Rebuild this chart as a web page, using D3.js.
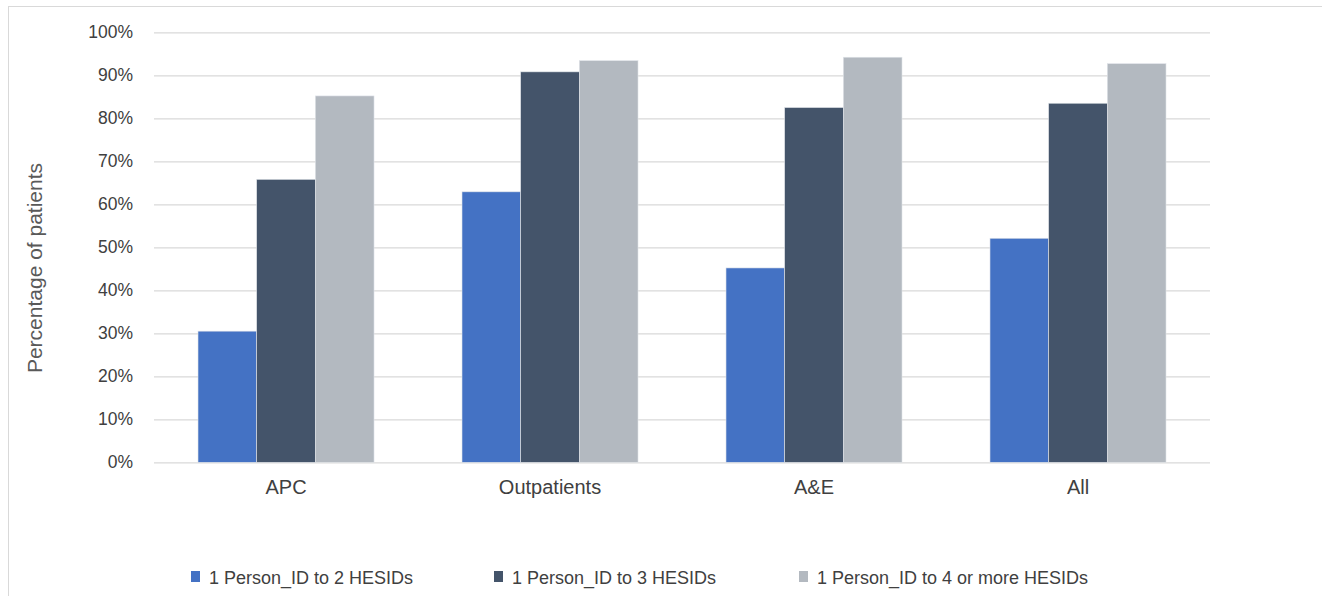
<!DOCTYPE html>
<html><head><meta charset="utf-8">
<script src="https://cdn.jsdelivr.net/npm/d3@7"></script>
<style>body{margin:0;background:#fff}svg{display:block}text{font-family:"Liberation Sans",Arial,sans-serif}</style>
</head><body>
<svg id="c" width="1322" height="596"></svg>
<script>
const categories = ["APC", "Outpatients", "A&E", "All"];
const seriesNames = ["1 Person_ID to 2 HESIDs", "1 Person_ID to 3 HESIDs", "1 Person_ID to 4 or more HESIDs"];
const series2 = [30.5, 62.9, 45.2, 52.1];
const series3 = [65.8, 90.8, 82.5, 83.5];
const series4 = [85.2, 93.4, 94.2, 92.7];
const yTicks = [0, 10, 20, 30, 40, 50, 60, 70, 80, 90, 100];
const colors = ["#4472c4", "#44546a", "#b3b9c0"];

const svg = d3.select("#c");
svg.append("rect").attr("x", 8.5).attr("y", 6.5).attr("width", 1330).attr("height", 600)
  .attr("fill", "#fff").attr("stroke", "#d9d9d9").attr("stroke-width", 1);

const pLeft = 154, pRight = 1210, pTop = 32.3, pBottom = 462.3;
const x = d3.scaleBand().domain(categories).range([pLeft, pRight]).paddingInner(0.3333).paddingOuter(0.1667);
const xs = d3.scaleBand().domain([0,1,2]).range([0, x.bandwidth()]);
const y = d3.scaleLinear().domain([0, 100]).range([pBottom, pTop]);

const gy = svg.append("g").attr("transform", `translate(${pLeft},0)`)
  .call(d3.axisLeft(y).tickValues(yTicks).tickFormat(d => d + "%").tickSize(-(pRight - pLeft)).tickPadding(21));
gy.select(".domain").remove();
gy.selectAll(".tick line").attr("stroke", "#d9d9d9").attr("stroke-width", 1.3);
gy.selectAll(".tick text").attr("fill", "#404040").style("font-size", "17.5px");

const data = [series2, series3, series4];
const g = svg.append("g");
data.forEach((vals, si) => {
  g.selectAll(null).data(categories).join("rect")
    .attr("x", d => x(d) + xs(si))
    .attr("width", xs.bandwidth())
    .attr("y", (d, i) => y(vals[i]))
    .attr("height", (d, i) => pBottom - y(vals[i]))
    .attr("fill", colors[si])
    .attr("stroke", "#dfe3e8").attr("stroke-width", 0.6);
});

const gx = svg.append("g").attr("transform", `translate(0,${pBottom})`)
  .call(d3.axisBottom(x).tickSize(0).tickPadding(18));
gx.select(".domain").remove();
gx.selectAll(".tick text").attr("fill", "#404040").style("font-size", "20px");

svg.append("text").attr("transform", "translate(42,268) rotate(-90)")
  .attr("text-anchor", "middle").attr("fill", "#595959").style("font-size", "21px")
  .text("Percentage of patients");

const legendX = [191, 494, 799];
const lg = svg.append("g");
seriesNames.forEach((n, i) => {
  lg.append("rect").attr("x", legendX[i]).attr("y", 571).attr("width", 9).attr("height", 11).attr("fill", colors[i]);
  lg.append("text").attr("x", legendX[i] + 18).attr("y", 583.5).attr("fill", "#404040")
    .style("font-size", "18px").text(n);
});
</script>
</body></html>
